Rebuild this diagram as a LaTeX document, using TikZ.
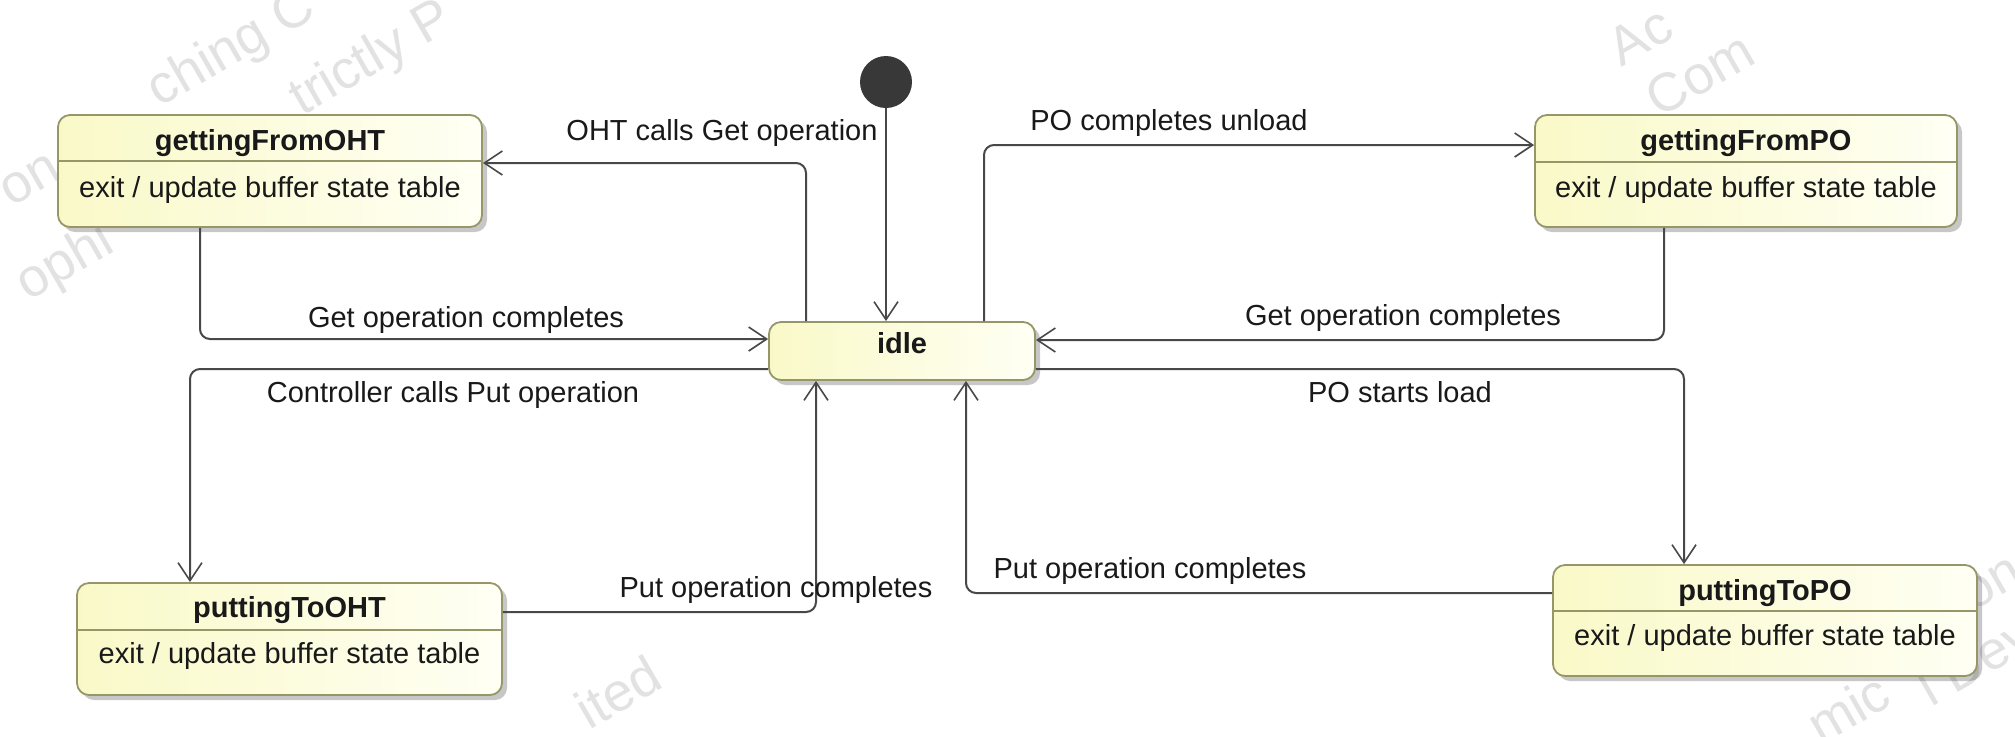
\documentclass[tikz,border=0pt]{standalone}
\usepackage{fontspec}
\setmainfont{Liberation Sans}
\usetikzlibrary{arrows.meta,shadows}

\definecolor{stateborder}{RGB}{150,150,105}
\definecolor{stateleft}{RGB}{249,249,200}
\definecolor{stateright}{RGB}{255,255,244}
\definecolor{wire}{RGB}{72,72,72}
\definecolor{ink}{RGB}{25,25,25}
\definecolor{markgray}{RGB}{226,226,226}

\tikzset{
  x=0.5pt, y=-0.5pt,
  txt/.style={font=\fontsize{14.5pt}{17pt}\selectfont, text=ink, inner sep=0pt, anchor=base},
  statetitle/.style={txt, font=\fontsize{14.5pt}{17pt}\selectfont\bfseries},
  statebox/.style={draw=stateborder, line width=0.9pt, rounded corners=6pt,
    left color=stateleft, right color=stateright, inner sep=0pt,
    drop shadow={shadow xshift=2.5pt, shadow yshift=-2.5pt, fill=black, opacity=0.22}},
  divider/.style={draw=stateborder, line width=0.9pt},
  tr/.style={draw=wire, line width=1pt, rounded corners=5pt,
    -{Straight Barb[length=9pt,width=12pt,line width=0.8pt]}},
  startdot/.style={circle, fill=black!78, minimum size=26pt, inner sep=0pt},
  wmark/.style={text=markgray, font=\fontsize{27pt}{27pt}\selectfont, rotate=30, inner sep=0pt},
}

\begin{document}
\begin{tikzpicture}
\fill[white] (0,0) rectangle (2015,736);
\useasboundingbox (0,0) rectangle (2015,736);

% faint licence watermark fragments
\begin{scope}
\clip (0,0) rectangle (2015,736);
\node[wmark] (w1) at (232,50) {ching C};
\node[wmark] (w2) at (372,60) {trictly P};
\node[wmark] (w3) at (30,180) {on};
\node[wmark] (w4) at (66,264) {ophi};
\node[wmark] (w5) at (1640,36) {Ac};
\node[wmark] (w6) at (1700,74) {Com};
\node[wmark] (w7) at (618,692) {ited};
\node[wmark] (w8) at (1848,708) {mic};
\node[wmark] (w9) at (1975,660) {l Dev};
\node[wmark] (w10) at (1992,584) {on};
\end{scope}

% states
\node[statebox, minimum width=212pt, minimum height=56pt] (gfo) at (270,171) {};
\node[statebox, minimum width=211pt, minimum height=56pt] (gfp) at (1746,171) {};
\node[statebox, minimum width=212.5pt, minimum height=56pt] (pto) at (289.5,639) {};
\node[statebox, minimum width=212pt, minimum height=55.5pt] (ptp) at (1765,620.5) {};
\node[statebox, minimum width=133pt, minimum height=29pt] (idle) at (902,351) {};

\draw[divider] ([yshift=-23.5pt]gfo.north west) -- ([yshift=-23.5pt]gfo.north east);
\draw[divider] ([yshift=-24pt]gfp.north west) -- ([yshift=-24pt]gfp.north east);
\draw[divider] ([yshift=-24pt]pto.north west) -- ([yshift=-24pt]pto.north east);
\draw[divider] ([yshift=-23.5pt]ptp.north west) -- ([yshift=-23.5pt]ptp.north east);

\node[statetitle] (gfoT) at (270,150) {gettingFromOHT};
\node[txt] (gfoR) at (270,197) {exit / update buffer state table};
\node[statetitle] (gfpT) at (1746,150) {gettingFromPO};
\node[txt] (gfpR) at (1746,197) {exit / update buffer state table};
\node[statetitle] (ptoT) at (289.5,617) {puttingToOHT};
\node[txt] (ptoR) at (289.5,663) {exit / update buffer state table};
\node[statetitle] (ptpT) at (1765,600) {puttingToPO};
\node[txt] (ptpR) at (1765,645) {exit / update buffer state table};
\node[statetitle] (idleT) at (902,353) {idle};

% initial pseudostate
\node[startdot] (init) at (886,82) {};
\draw[tr] (init.south) -- (init.south |- idle.north);

% bend points of the transitions
\coordinate (b1) at (806,163);
\coordinate (b2) at (984,145);
\coordinate (b3) at (200,339);
\coordinate (b4) at (1664,340);
\coordinate (b5) at (190,369);
\coordinate (b6) at (1684,369);
\coordinate (b7) at (816,612);
\coordinate (b8) at (966,593);

% transitions
\draw[tr] (b1 |- idle.north) -- (b1) -- (b1 -| gfo.east);
\draw[tr] (b2 |- idle.north) -- (b2) -- (b2 -| gfp.west);
\draw[tr] (b3 |- gfo.south) -- (b3) -- (b3 -| idle.west);
\draw[tr] (b4 |- gfp.south) -- (b4) -- (b4 -| idle.east);
\draw[tr] (b5 -| idle.west) -- (b5) -- (b5 |- pto.north);
\draw[tr] (b6 -| idle.east) -- (b6) -- (b6 |- ptp.north);
\draw[tr] (b7 -| pto.east) -- (b7) -- (b7 |- idle.south);
\draw[tr] (b8 -| ptp.west) -- (b8) -- (b8 |- idle.south);

% transition labels
\node[txt] (l1) at (722,140) {OHT calls Get operation};
\node[txt] (l2) at (1169,130) {PO completes unload};
\node[txt] (l3) at (466,327) {Get operation completes};
\node[txt] (l4) at (1403,325) {Get operation completes};
\node[txt] (l5) at (453,402) {Controller calls Put operation};
\node[txt] (l6) at (1400,402) {PO starts load};
\node[txt] (l7) at (776,597) {Put operation completes};
\node[txt] (l8) at (1150,578) {Put operation completes};
\end{tikzpicture}
\end{document}
